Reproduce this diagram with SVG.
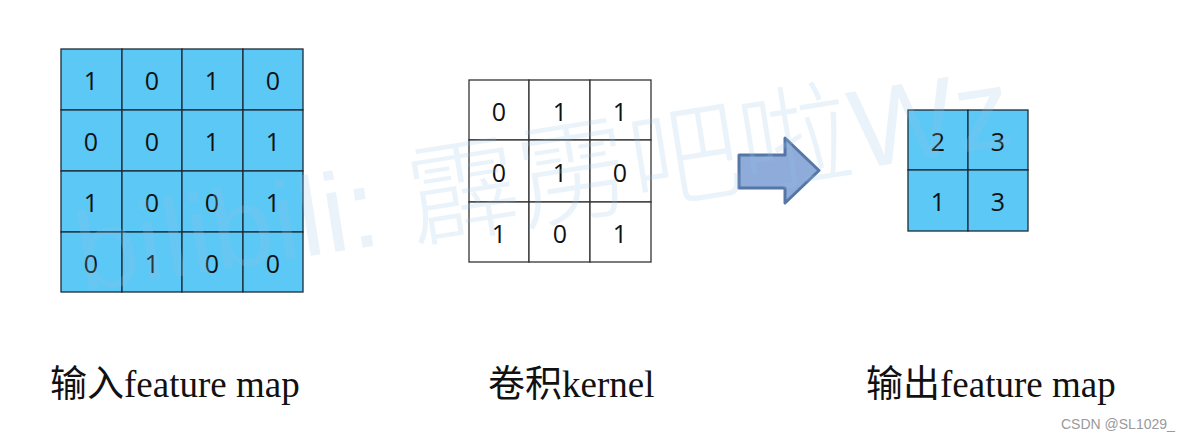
<svg xmlns="http://www.w3.org/2000/svg" width="1177" height="440" viewBox="0 0 1177 440">
<style>
.cb{fill:#5bc8f5;stroke:#1e2a36;stroke-width:1.3}
.cw{fill:#ffffff;stroke:#333333;stroke-width:1.3}
.d{font-family:"Open Sans","Liberation Sans",sans-serif;font-size:25px;fill:#111;text-anchor:middle;dominant-baseline:central}
.lab{font-family:"Liberation Serif","Noto Sans CJK SC",serif;font-size:37px;fill:#111}
.wm{font-family:"Liberation Sans","Noto Sans CJK SC",sans-serif;font-size:112px;font-weight:300;fill:#9cc6ea;opacity:0.2}
</style>
<rect width="1177" height="440" fill="#ffffff"/>
<g id="input">
<rect class="cb" x="61" y="49" width="61" height="61"/><rect class="cb" x="122" y="49" width="60" height="61"/><rect class="cb" x="182" y="49" width="61" height="61"/><rect class="cb" x="243" y="49" width="60" height="61"/>
<rect class="cb" x="61" y="110" width="61" height="61"/><rect class="cb" x="122" y="110" width="60" height="61"/><rect class="cb" x="182" y="110" width="61" height="61"/><rect class="cb" x="243" y="110" width="60" height="61"/>
<rect class="cb" x="61" y="171" width="61" height="61"/><rect class="cb" x="122" y="171" width="60" height="61"/><rect class="cb" x="182" y="171" width="61" height="61"/><rect class="cb" x="243" y="171" width="60" height="61"/>
<rect class="cb" x="61" y="232" width="61" height="60"/><rect class="cb" x="122" y="232" width="60" height="60"/><rect class="cb" x="182" y="232" width="61" height="60"/><rect class="cb" x="243" y="232" width="60" height="60"/>
<text class="d" x="91" y="80">1</text><text class="d" x="152" y="80">0</text><text class="d" x="212" y="80">1</text><text class="d" x="273" y="80">0</text>
<text class="d" x="91" y="141">0</text><text class="d" x="152" y="141">0</text><text class="d" x="212" y="141">1</text><text class="d" x="273" y="141">1</text>
<text class="d" x="91" y="202">1</text><text class="d" x="152" y="202">0</text><text class="d" x="212" y="202">0</text><text class="d" x="273" y="202">1</text>
<text class="d" x="91" y="263">0</text><text class="d" x="152" y="263">1</text><text class="d" x="212" y="263">0</text><text class="d" x="273" y="263">0</text>
</g>
<g id="kernel">
<rect class="cw" x="469" y="80" width="60" height="60"/><rect class="cw" x="529" y="80" width="61" height="60"/><rect class="cw" x="590" y="80" width="61" height="60"/>
<rect class="cw" x="469" y="140" width="60" height="62"/><rect class="cw" x="529" y="140" width="61" height="62"/><rect class="cw" x="590" y="140" width="61" height="62"/>
<rect class="cw" x="469" y="202" width="60" height="60"/><rect class="cw" x="529" y="202" width="61" height="60"/><rect class="cw" x="590" y="202" width="61" height="60"/>
<text class="d" x="499" y="111">0</text><text class="d" x="560" y="111">1</text><text class="d" x="620" y="111">1</text>
<text class="d" x="499" y="172">0</text><text class="d" x="560" y="172">1</text><text class="d" x="620" y="172">0</text>
<text class="d" x="499" y="233">1</text><text class="d" x="560" y="233">0</text><text class="d" x="620" y="233">1</text>
</g>
<g id="arrow">
<path d="M739,155 L785,155 L785,138 L819,170.5 L785,203 L785,188 L739,188 Z" fill="#8eabd9" stroke="#5676a6" stroke-width="3" stroke-linejoin="round"/>
</g>
<g id="output">
<rect class="cb" x="908" y="110" width="60" height="60"/><rect class="cb" x="968" y="110" width="60" height="60"/>
<rect class="cb" x="908" y="170" width="60" height="61"/><rect class="cb" x="968" y="170" width="60" height="61"/>
<text class="d" x="938" y="141">2</text><text class="d" x="998" y="141">3</text>
<text class="d" x="938" y="201">1</text><text class="d" x="998" y="201">3</text>
</g>
<g id="watermark">
<text class="wm" x="82" y="292" transform="rotate(-9 82 292)">bilibili: 霹雳吧啦Wz</text>
</g>
<g id="labels">
<text class="lab" x="50" y="397">输入feature map</text>
<text class="lab" x="488" y="397">卷积kernel</text>
<text class="lab" x="866" y="397">输出feature map</text>
<text x="1061" y="429" font-family="Liberation Sans,sans-serif" font-size="14" fill="#9a9a9a">CSDN @SL1029_</text>
</g>
</svg>
